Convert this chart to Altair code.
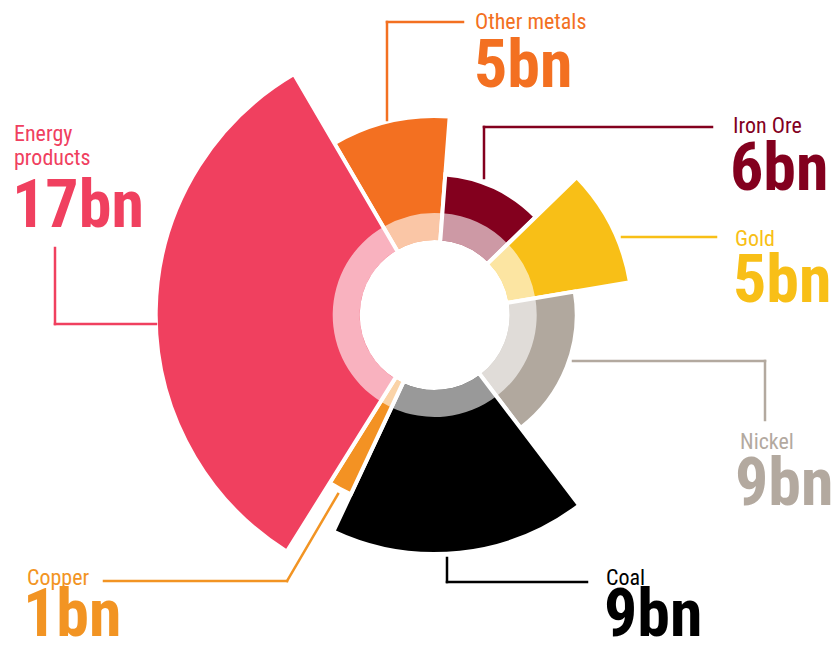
import math
import altair as alt
import pandas as pd

# ---- data ----
names = ["Other metals", "Iron Ore", "Gold", "Nickel", "Coal", "Copper", "Energy products"]
values_bn = [5, 6, 5, 9, 9, 1, 17]          # wedge angle
extent = [95, 37, 94, 38, 135, 94, 175]      # wedge radial length (relative)
value_labels = ["5bn", "6bn", "5bn", "9bn", "9bn", "1bn", "17bn"]
name_labels = ["Other metals", "Iron Ore", "Gold", "Nickel", "Coal", "Copper", "Energy\nproducts"]
colors = ["#F37021", "#83001E", "#F8BF17", "#B1A89E", "#000000", "#F39223", "#F0405F"]
text_colors = ["#F37021", "#83001E", "#F8BF17", "#B3A99F", "#000000", "#F29423", "#F0405F"]

# ---- layout (page pixels) ----
OFF = 8
CX, CY = 434.7, 315
START_DEG = -30.3
name_pos = [(475, 29), (733, 133), (735, 246), (740, 449), (606, 585), (27, 585), (14, 141)]
value_pos = [(474, 87), (730, 190), (733, 302), (735, 505), (604, 636), (23, 636), (12, 227)]
leaders = [
    [(463, 22), (387, 22), (387, 120)],
    [(712, 127), (484, 127), (484, 178)],
    [(622, 237), (716, 237)],
    [(573, 361), (765, 361), (765, 420)],
    [(447, 558), (447, 582), (587, 582)],
    [(338, 494), (287, 581), (104, 581)],
    [(156, 324), (55, 324), (55, 248)],
]
FONT = "Roboto Condensed"

t1 = []
acc = 0
for v in values_bn:
    acc += v
    t1.append(acc)
t0 = [a - v for a, v in zip(t1, values_bn)]
total = acc

df = pd.DataFrame({
    "name": names,
    "t0": t0,
    "t1": t1,
    "extent": extent,
    "color": colors,
})

seg_rows = []
for i, pts in enumerate(leaders):
    for (x1, y1), (x2, y2) in zip(pts[:-1], pts[1:]):
        seg_rows.append({"x": x1 - OFF, "y": y1 - OFF, "x2": x2 - OFF, "y2": y2 - OFF,
                         "color": text_colors[i]})
segs = pd.DataFrame(seg_rows)

labels = pd.DataFrame({
    "name": name_labels,
    "val": value_labels,
    "color": text_colors,
    "nx": [p[0] - OFF for p in name_pos],
    "ny": [p[1] - OFF for p in name_pos],
    "vx": [p[0] - OFF for p in value_pos],
    "vy": [p[1] - OFF for p in value_pos],
})

s = math.radians(START_DEG)
theta_scale = alt.Scale(domain=[0, total], range=[s, s + 2 * math.pi])

base = alt.Chart(df).encode(
    theta=alt.Theta("t0:Q", scale=theta_scale, stack=None),
    theta2="t1:Q",
    x=alt.value(CX - OFF),
    y=alt.value(CY - OFF),
)

dark = base.mark_arc(stroke="white", strokeWidth=4, strokeJoin="miter").encode(
    radius=alt.Radius("extent:Q", scale=alt.Scale(type="linear", domain=[0, 175], range=[104, 279], zero=False)),
    radius2=alt.value(73),
    color=alt.Color("color:N", scale=None),
)

light = base.mark_arc(fill="white", opacity=0.6, strokeWidth=0).encode(
    radius=alt.value(102),
    radius2=alt.value(75),
)

rules = alt.Chart(segs).mark_rule(strokeWidth=2.5, strokeCap="square").encode(
    x=alt.X("x:Q", scale=None), y=alt.Y("y:Q", scale=None),
    x2="x2:Q", y2="y2:Q",
    color=alt.Color("color:N", scale=None),
)

name_text = alt.Chart(labels).mark_text(
    font=FONT, fontSize=22, align="left", baseline="alphabetic", lineBreak="\n", lineHeight=24
).encode(
    x=alt.X("nx:Q", scale=None), y=alt.Y("ny:Q", scale=None),
    text="name:N", color=alt.Color("color:N", scale=None),
)

val_text = alt.Chart(labels).mark_text(
    font=FONT, fontSize=66, fontWeight="bold", align="left", baseline="alphabetic"
).encode(
    x=alt.X("vx:Q", scale=None), y=alt.Y("vy:Q", scale=None),
    text="val:N", color=alt.Color("color:N", scale=None),
)

chart = alt.layer(dark, light, rules, name_text, val_text).properties(
    width=823, height=629, autosize="none", padding=0
).configure_view(stroke=None)

chart.save("out.html", embed_options={"renderer": "svg", "actions": False})
